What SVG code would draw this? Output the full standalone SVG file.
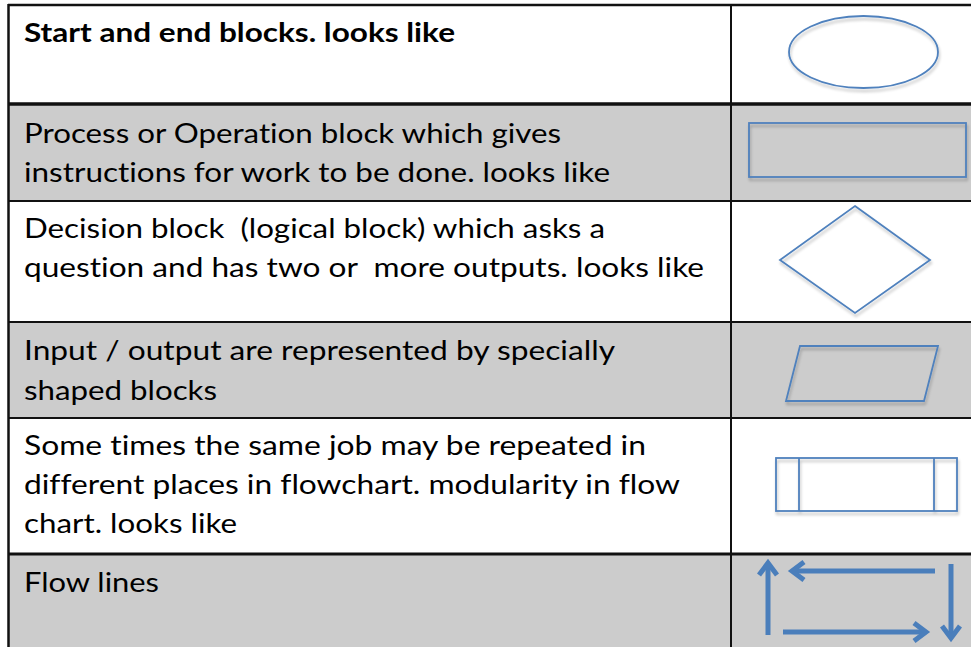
<svg xmlns="http://www.w3.org/2000/svg" width="971" height="647" viewBox="0 0 971 647">
<defs>
<style>
.t{font-family:Lato,"Open Sans","Liberation Sans",sans-serif;font-size:27px;fill:#000;font-variant-ligatures:none;font-feature-settings:"liga" 0,"clig" 0}
.b{font-weight:bold}
.sh{fill:none;stroke:#4f81bd;stroke-width:1.8}
.ar{fill:none;stroke:#4a7ebb;stroke-width:5;stroke-linecap:butt;stroke-linejoin:miter}
.grid{stroke:#111;fill:none}
</style>
<filter id="ds" x="-10%" y="-10%" width="130%" height="140%">
<feGaussianBlur in="SourceAlpha" stdDeviation="1.5"/>
<feOffset dx="1" dy="2.5" result="o"/>
<feComponentTransfer><feFuncA type="linear" slope="0.25"/></feComponentTransfer>
<feMerge><feMergeNode/><feMergeNode in="SourceGraphic"/></feMerge>
</filter>
</defs>
<rect width="971" height="647" fill="#fff"/>
<g id="backgrounds">
<rect x="8" y="104" width="963" height="97" fill="#cccccc"/>
<rect x="8" y="322" width="963" height="96" fill="#cccccc"/>
<rect x="8" y="554" width="963" height="93" fill="#cccccc"/>
</g>
<g id="grid">
<line class="grid" x1="8" y1="5" x2="971" y2="5" stroke-width="2.5"/>
<line class="grid" x1="8" y1="104" x2="971" y2="104" stroke-width="3.5"/>
<line class="grid" x1="8" y1="201" x2="971" y2="201" stroke-width="2"/>
<line class="grid" x1="8" y1="322" x2="971" y2="322" stroke-width="2"/>
<line class="grid" x1="8" y1="418" x2="971" y2="418" stroke-width="2"/>
<line class="grid" x1="8" y1="554" x2="971" y2="554" stroke-width="3"/>
<line class="grid" x1="8.5" y1="4" x2="8.5" y2="647" stroke-width="2.5"/>
<line class="grid" x1="731" y1="4" x2="731" y2="647" stroke-width="2"/>
</g>
<g id="row-start-end">
<text class="t b" x="24" y="42" textLength="431" lengthAdjust="spacingAndGlyphs">Start and end blocks. looks like</text>
<ellipse class="sh" cx="863.5" cy="52" rx="74.5" ry="36" fill="#fff" filter="url(#ds)"/>
</g>
<g id="row-process">
<text class="t" x="24" y="143" textLength="537" lengthAdjust="spacingAndGlyphs">Process or Operation block which gives</text>
<text class="t" x="24" y="182" textLength="586" lengthAdjust="spacingAndGlyphs">instructions for work to be done. looks like</text>
<rect class="sh" x="749" y="123" width="217" height="54" filter="url(#ds)"/>
</g>
<g id="row-decision">
<text class="t" x="24" y="238" textLength="581" lengthAdjust="spacingAndGlyphs" xml:space="preserve">Decision block  (logical block) which asks a</text>
<text class="t" x="24" y="277" textLength="680" lengthAdjust="spacingAndGlyphs" xml:space="preserve">question and has two or  more outputs. looks like</text>
<polygon class="sh" points="855,206 930,260 855,313 780,260" fill="#fff" filter="url(#ds)"/>
</g>
<g id="row-io">
<text class="t" x="24" y="360" textLength="591" lengthAdjust="spacingAndGlyphs">Input / output are represented by specially</text>
<text class="t" x="24" y="400" textLength="193" lengthAdjust="spacingAndGlyphs">shaped blocks</text>
<polygon class="sh" points="800,346 938,346 924,401 786,401" filter="url(#ds)"/>
</g>
<g id="row-module">
<text class="t" x="24" y="455" textLength="622" lengthAdjust="spacingAndGlyphs">Some times the same job may be repeated in</text>
<text class="t" x="24" y="494" textLength="656" lengthAdjust="spacingAndGlyphs">different places in flowchart. modularity in flow</text>
<text class="t" x="24" y="533" textLength="213" lengthAdjust="spacingAndGlyphs">chart. looks like</text>
<g filter="url(#ds)">
<rect class="sh" x="776" y="458" width="181" height="53" fill="#fff"/>
<line class="sh" x1="799" y1="458" x2="799" y2="511"/>
<line class="sh" x1="934" y1="458" x2="934" y2="511"/>
</g>
</g>
<g id="row-flow">
<text class="t" x="24" y="592" textLength="135" lengthAdjust="spacingAndGlyphs">Flow lines</text>
</g>
<g id="connectors">
<line class="ar" x1="768" y1="635" x2="768" y2="565"/>
<polyline class="ar" points="759,575 768,563 777,575"/>
<line class="ar" x1="935" y1="571" x2="794" y2="571"/>
<polyline class="ar" points="804,562 792,571 804,580"/>
<line class="ar" x1="783" y1="632" x2="924" y2="632"/>
<polyline class="ar" points="914,623 926,632 914,641"/>
<line class="ar" x1="951" y1="564" x2="951" y2="636"/>
<polyline class="ar" points="942,626 951,638 960,626"/>
</g>
</svg>
